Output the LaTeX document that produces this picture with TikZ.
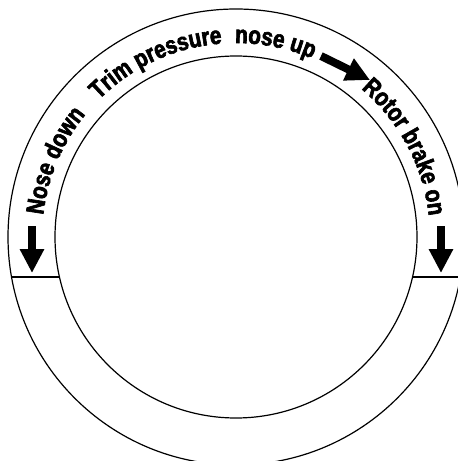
\documentclass[tikz,border=0pt]{standalone}
\usepackage{fontspec}
\setmainfont{Liberation Sans Bold}[FakeStretch=0.83,FakeBold=2.5]
\usetikzlibrary{decorations.text,arrows.meta}
\tikzset{
  ring/.style={line width=1.2pt},
  bigarrow/.style={line width=8pt,-{Triangle[length=24pt,width=23pt]}},
  arctext/.style={font=\fontsize{25}{26}\selectfont,decorate,decoration={text along path,
     text={|\fontsize{25}{26}\selectfont|#1}}}
}
\begin{document}
\begin{tikzpicture}[x=1pt,y=1pt]
\clip (-236,-224) rectangle (222,237);
\fill[white] (-236,-224) rectangle (222,237);
\coordinate (c) at (0,0);
\draw[ring] (c) circle[radius=228];
\draw[ring] (c) circle[radius=181];
% separator lines
\coordinate (lo) at (-224.5,-40);
\coordinate (li) at (-176.5,-40);
\coordinate (ro) at (224.5,-40);
\coordinate (ri) at (176.5,-40);
\draw[ring] (lo) -- (li);
\draw[ring] (ri) -- (ro);
% arrows
\coordinate (la1) at (-204,11);
\coordinate (la2) at (-204,-36);
\coordinate (ra1) at (205,11);
\coordinate (ra2) at (205,-36);
\coordinate (da1) at (85,181);
\coordinate (da2) at (134,157);
\draw[bigarrow] (la1) -- (la2);
\draw[bigarrow] (ra1) -- (ra2);
\draw[bigarrow] (da1) -- (da2);
% texts along the ring
\path[arctext={Nose down}] (173.5:194) arc[start angle=173.5,end angle=115,radius=194];
\path[arctext={Trim pressure}] (135:194) arc[start angle=135,end angle=75,radius=194];
\path[arctext={nose up}] (90.3:194) arc[start angle=90.3,end angle=45,radius=194];
\path[arctext={Rotor brake on}] (49.8:194) arc[start angle=49.8,end angle=-5,radius=194];
\end{tikzpicture}
\end{document}
